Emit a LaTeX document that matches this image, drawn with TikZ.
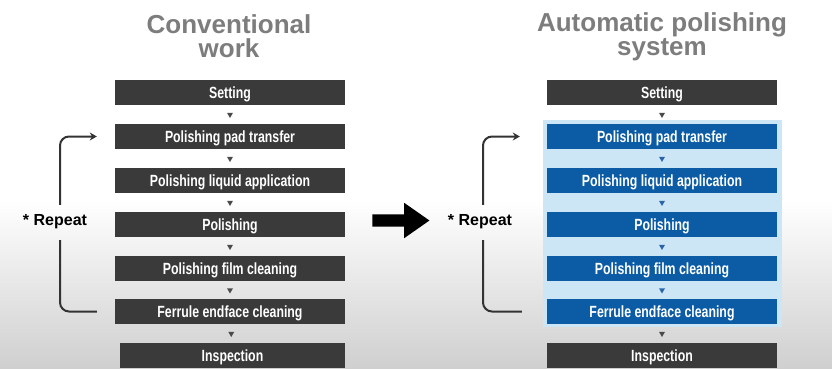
\documentclass[tikz,border=0pt]{standalone}
\usepackage{fontspec}
\setmainfont{Liberation Sans}
\newfontfamily\stepfont[FakeStretch=0.76]{Liberation Sans}
\usetikzlibrary{shapes.geometric,shapes.arrows,arrows.meta}
\definecolor{boxgray}{HTML}{3A3A3A}
\definecolor{boxblue}{HTML}{0B5CA5}
\definecolor{panelblue}{HTML}{CDE6F6}
\definecolor{titlegray}{HTML}{7D7D7D}
\definecolor{linegray}{HTML}{333333}
\definecolor{trigray}{HTML}{4A4A4A}
\definecolor{triblue}{HTML}{2A64A8}
\definecolor{bggray}{HTML}{CFCFCF}
\tikzset{
	greybox/.style={fill=boxgray, text=white, minimum width=230pt, minimum height=25pt, inner sep=0pt, text height=11.5pt, text depth=0pt, font=\stepfont\bfseries\fontsize{16.2}{17}\selectfont},
	bluebox/.style={greybox, fill=boxblue},
	tri/.style={regular polygon, regular polygon sides=3, shape border rotate=180, fill=#1, minimum size=7pt, inner sep=0pt},
	coltitle/.style={text=titlegray, font=\bfseries\fontsize{26}{24}\selectfont, align=center},
	repeatlabel/.style={font=\bfseries\fontsize{16}{18}\selectfont, minimum height=35pt, inner sep=0pt, text height=11.7pt, text depth=6.7pt},
	backline/.style={draw=linegray, line width=2pt, rounded corners=9pt},
}

\begin{document}
\begin{tikzpicture}[x=1pt,y=-1pt]
		%%%%% START %%%%%
		\useasboundingbox (0,0) rectangle (832,369);
		\fill[white] (0,0) rectangle (832,200);
		\shade[top color=white, bottom color=bggray] (0,200) rectangle (832,369);
		
		% conventional work
		\node[coltitle, anchor=base] (ct) at (229,57) {Conventional\\work};
		\node[greybox] (c1) at (230,92.5) {Setting};
		\node[greybox] (c2) at (230,136.5) {Polishing pad transfer};
		\node[greybox] (c3) at (230,180.5) {Polishing liquid application};
		\node[greybox] (c4) at (230,224.5) {Polishing};
		\node[greybox] (c5) at (230,268.5) {Polishing film cleaning};
		\node[greybox] (c6) at (230,311.5) {Ferrule endface cleaning};
		\node[greybox, minimum width=225pt] (c7) at (232.5,355.5) {Inspection};
		
		\path (c1) -- node[tri=trigray]{} (c2);
		\path (c2) -- node[tri=trigray]{} (c3);
		\path (c3) -- node[tri=trigray]{} (c4);
		\path (c4) -- node[tri=trigray]{} (c5);
		\path (c5) -- node[tri=trigray]{} (c6);
		\path (c6) -- node[tri=trigray]{} (c7);
		
		\node[repeatlabel] (cr) at (55,222.5) {* Repeat};
		\draw[backline, -{Stealth[length=7pt,width=8pt]}] ([xshift=5pt]cr.north) |- ([xshift=-18pt]c2.west);
		\draw[backline] ([xshift=5pt]cr.south) |- ([xshift=-18pt]c6.west);
		
		% big arrow
		\node[single arrow, fill=black, minimum height=57pt, single arrow head extend=11.5pt, single arrow tip angle=70, inner sep=6pt] (go) at (396.5,220.5) {};
		
		% automatic polishing system
		\fill[panelblue] (543,120) rectangle (782,327);
		\node[coltitle, anchor=base] (at) at (662,56) {Automatic polishing\\system};
		\node[greybox] (a1) at (662,92.5) {Setting};
		\node[bluebox] (a2) at (662,136.5) {Polishing pad transfer};
		\node[bluebox] (a3) at (662,180.5) {Polishing liquid application};
		\node[bluebox] (a4) at (662,224.5) {Polishing};
		\node[bluebox] (a5) at (662,268.5) {Polishing film cleaning};
		\node[bluebox] (a6) at (662,311.5) {Ferrule endface cleaning};
		\node[greybox] (a7) at (662,355.5) {Inspection};
		
		\path (a1) -- node[tri=trigray]{} (a2);
		\path (a2) -- node[tri=triblue]{} (a3);
		\path (a3) -- node[tri=triblue]{} (a4);
		\path (a4) -- node[tri=triblue]{} (a5);
		\path (a5) -- node[tri=triblue]{} (a6);
		\path (a6) -- node[tri=trigray]{} (a7);
		
		\node[repeatlabel] (ar) at (480,222.5) {* Repeat};
		\draw[backline, -{Stealth[length=7pt,width=8pt]}] ([xshift=3pt]ar.north) |- ([xshift=-27pt]a2.west);
		\draw[backline] ([xshift=3pt]ar.south) |- ([xshift=-25pt]a6.west);
		%%%%% END %%%%%
\end{tikzpicture}
\end{document}
